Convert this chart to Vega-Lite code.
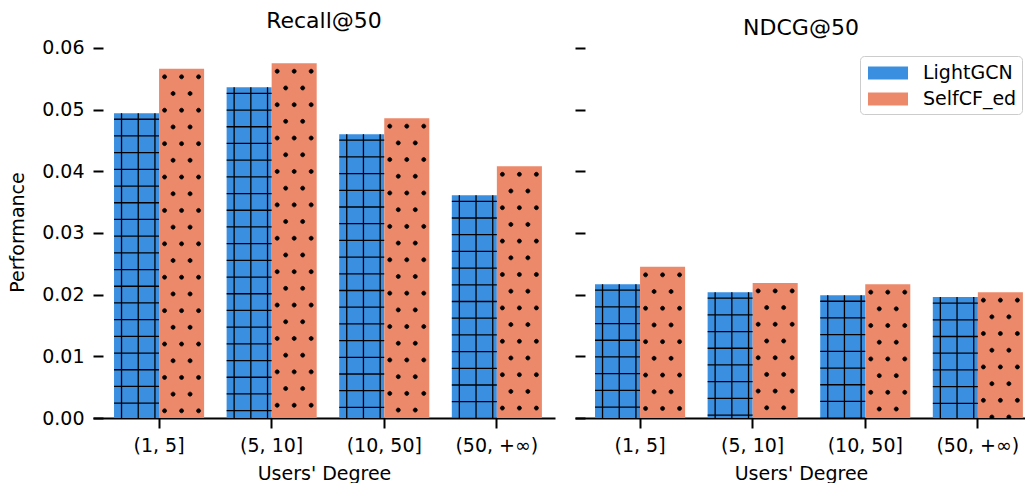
{
  "$schema": "https://vega.github.io/schema/vega-lite/v6.json",
  "padding": {"left": 8, "top": 9, "right": 0, "bottom": 0},
  "config": {
    "font": "DejaVu Sans",
    "view": {"stroke": null},
    "axis": {
      "labelFont": "DejaVu Sans", "titleFont": "DejaVu Sans",
      "labelFontSize": 19, "titleFontSize": 19,
      "labelColor": "black", "titleColor": "black", "titleFontWeight": "normal",
      "domainColor": "black", "tickColor": "black", "grid": false
    },
    "title": {"font": "DejaVu Sans", "fontSize": 22, "fontWeight": "normal", "color": "black", "offset": 6},
    "legend": {"labelFont": "DejaVu Sans"}
  },
  "data": {
    "values": [
      {"metric": "Recall@50", "degree": "(1, 5]", "model": "LightGCN", "value": 0.0494},
      {"metric": "Recall@50", "degree": "(5, 10]", "model": "LightGCN", "value": 0.0536},
      {"metric": "Recall@50", "degree": "(10, 50]", "model": "LightGCN", "value": 0.0460},
      {"metric": "Recall@50", "degree": "(50, +∞)", "model": "LightGCN", "value": 0.0361},
      {"metric": "Recall@50", "degree": "(1, 5]", "model": "SelfCF_ed", "value": 0.0566},
      {"metric": "Recall@50", "degree": "(5, 10]", "model": "SelfCF_ed", "value": 0.0575},
      {"metric": "Recall@50", "degree": "(10, 50]", "model": "SelfCF_ed", "value": 0.0486},
      {"metric": "Recall@50", "degree": "(50, +∞)", "model": "SelfCF_ed", "value": 0.0408},
      {"metric": "NDCG@50", "degree": "(1, 5]", "model": "LightGCN", "value": 0.0217},
      {"metric": "NDCG@50", "degree": "(5, 10]", "model": "LightGCN", "value": 0.0204},
      {"metric": "NDCG@50", "degree": "(10, 50]", "model": "LightGCN", "value": 0.0199},
      {"metric": "NDCG@50", "degree": "(50, +∞)", "model": "LightGCN", "value": 0.0196},
      {"metric": "NDCG@50", "degree": "(1, 5]", "model": "SelfCF_ed", "value": 0.0245},
      {"metric": "NDCG@50", "degree": "(5, 10]", "model": "SelfCF_ed", "value": 0.0219},
      {"metric": "NDCG@50", "degree": "(10, 50]", "model": "SelfCF_ed", "value": 0.0217},
      {"metric": "NDCG@50", "degree": "(50, +∞)", "model": "SelfCF_ed", "value": 0.0204}
    ]
  },
  "spacing": 19,
  "resolve": {"scale": {"x": "independent", "y": "shared", "color": "shared"}, "legend": {"color": "independent"}},
  "hconcat": [
    {
      "title": "Recall@50",
      "width": 462,
      "height": 372,
      "transform": [{"filter": "datum.metric === 'Recall@50'"}],
      "encoding": {
        "x": {
          "field": "degree", "type": "nominal",
          "sort": ["(1, 5]", "(5, 10]", "(10, 50]", "(50, +∞)"],
          "scale": {"paddingInner": 0.2, "paddingOuter": 0.1515, "align": 0.616},
          "axis": {"title": "Users' Degree", "labelAngle": 0, "labelPadding": 8, "tickSize": 10, "tickWidth": 2, "domainWidth": 2, "titlePadding": 9}
        },
        "xOffset": {"field": "model", "type": "nominal", "sort": ["LightGCN", "SelfCF_ed"], "scale": {"paddingInner": 0, "paddingOuter": 0}},
        "y": {
          "field": "value", "type": "quantitative",
          "scale": {"domain": [0, 0.0603], "nice": false},
          "axis": {"title": "Performance", "values": [0, 0.01, 0.02, 0.03, 0.04, 0.05, 0.06], "format": ".2f", "domain": false, "offset": -10, "tickSize": 10, "tickWidth": 2, "labelPadding": 9, "titlePadding": 14}
        }
      },
      "layer": [
        {
          "mark": {"type": "bar"},
          "encoding": {
            "color": {
              "field": "model", "type": "nominal",
              "scale": {"domain": ["LightGCN", "SelfCF_ed"], "range": ["#3b8fe0", "#eb896a"]},
              "legend": null
            }
          }
        },
        {
          "transform": [{"filter": "datum.model === 'LightGCN'"}],
          "mark": {"type": "point", "clip": true, "filled": false, "stroke": "black", "strokeWidth": 1.3, "opacity": 1, "size": 4,
            "shape": "M-22.5,6H22.5M-22.5,22.7H22.5M-22.5,39.4H22.5M-22.5,56.1H22.5M-22.5,72.8H22.5M-22.5,89.5H22.5M-22.5,106.2H22.5M-22.5,122.9H22.5M-22.5,139.6H22.5M-22.5,156.3H22.5M-22.5,173H22.5M-22.5,189.7H22.5M-22.5,206.4H22.5M-22.5,223.1H22.5M-22.5,239.8H22.5M-22.5,256.5H22.5M-22.5,273.2H22.5M-22.5,289.9H22.5M-22.5,306.6H22.5M-22.5,323.3H22.5M-22.5,340H22.5M-22.5,356.7H22.5M-22.5,373.4H22.5M-15,0V380M1.7,0V380M18.4,0V380"}
        },
        {
          "transform": [{"filter": "datum.model === 'SelfCF_ed'"}],
          "mark": {"type": "point", "clip": true, "filled": true, "fill": "black", "stroke": "black", "strokeWidth": 0.8, "opacity": 1, "size": 4,
            "shape": "M-19,8a2,2 0 1,0 4,0a2,2 0 1,0 -4,0M-2,8a2,2 0 1,0 4,0a2,2 0 1,0 -4,0M15,8a2,2 0 1,0 4,0a2,2 0 1,0 -4,0M-10.5,24.7a2,2 0 1,0 4,0a2,2 0 1,0 -4,0M6.5,24.7a2,2 0 1,0 4,0a2,2 0 1,0 -4,0M-19,41.4a2,2 0 1,0 4,0a2,2 0 1,0 -4,0M-2,41.4a2,2 0 1,0 4,0a2,2 0 1,0 -4,0M15,41.4a2,2 0 1,0 4,0a2,2 0 1,0 -4,0M-10.5,58.1a2,2 0 1,0 4,0a2,2 0 1,0 -4,0M6.5,58.1a2,2 0 1,0 4,0a2,2 0 1,0 -4,0M-19,74.8a2,2 0 1,0 4,0a2,2 0 1,0 -4,0M-2,74.8a2,2 0 1,0 4,0a2,2 0 1,0 -4,0M15,74.8a2,2 0 1,0 4,0a2,2 0 1,0 -4,0M-10.5,91.5a2,2 0 1,0 4,0a2,2 0 1,0 -4,0M6.5,91.5a2,2 0 1,0 4,0a2,2 0 1,0 -4,0M-19,108.2a2,2 0 1,0 4,0a2,2 0 1,0 -4,0M-2,108.2a2,2 0 1,0 4,0a2,2 0 1,0 -4,0M15,108.2a2,2 0 1,0 4,0a2,2 0 1,0 -4,0M-10.5,124.9a2,2 0 1,0 4,0a2,2 0 1,0 -4,0M6.5,124.9a2,2 0 1,0 4,0a2,2 0 1,0 -4,0M-19,141.6a2,2 0 1,0 4,0a2,2 0 1,0 -4,0M-2,141.6a2,2 0 1,0 4,0a2,2 0 1,0 -4,0M15,141.6a2,2 0 1,0 4,0a2,2 0 1,0 -4,0M-10.5,158.3a2,2 0 1,0 4,0a2,2 0 1,0 -4,0M6.5,158.3a2,2 0 1,0 4,0a2,2 0 1,0 -4,0M-19,175a2,2 0 1,0 4,0a2,2 0 1,0 -4,0M-2,175a2,2 0 1,0 4,0a2,2 0 1,0 -4,0M15,175a2,2 0 1,0 4,0a2,2 0 1,0 -4,0M-10.5,191.7a2,2 0 1,0 4,0a2,2 0 1,0 -4,0M6.5,191.7a2,2 0 1,0 4,0a2,2 0 1,0 -4,0M-19,208.4a2,2 0 1,0 4,0a2,2 0 1,0 -4,0M-2,208.4a2,2 0 1,0 4,0a2,2 0 1,0 -4,0M15,208.4a2,2 0 1,0 4,0a2,2 0 1,0 -4,0M-10.5,225.1a2,2 0 1,0 4,0a2,2 0 1,0 -4,0M6.5,225.1a2,2 0 1,0 4,0a2,2 0 1,0 -4,0M-19,241.8a2,2 0 1,0 4,0a2,2 0 1,0 -4,0M-2,241.8a2,2 0 1,0 4,0a2,2 0 1,0 -4,0M15,241.8a2,2 0 1,0 4,0a2,2 0 1,0 -4,0M-10.5,258.5a2,2 0 1,0 4,0a2,2 0 1,0 -4,0M6.5,258.5a2,2 0 1,0 4,0a2,2 0 1,0 -4,0M-19,275.2a2,2 0 1,0 4,0a2,2 0 1,0 -4,0M-2,275.2a2,2 0 1,0 4,0a2,2 0 1,0 -4,0M15,275.2a2,2 0 1,0 4,0a2,2 0 1,0 -4,0M-10.5,291.9a2,2 0 1,0 4,0a2,2 0 1,0 -4,0M6.5,291.9a2,2 0 1,0 4,0a2,2 0 1,0 -4,0M-19,308.6a2,2 0 1,0 4,0a2,2 0 1,0 -4,0M-2,308.6a2,2 0 1,0 4,0a2,2 0 1,0 -4,0M15,308.6a2,2 0 1,0 4,0a2,2 0 1,0 -4,0M-10.5,325.3a2,2 0 1,0 4,0a2,2 0 1,0 -4,0M6.5,325.3a2,2 0 1,0 4,0a2,2 0 1,0 -4,0M-19,342a2,2 0 1,0 4,0a2,2 0 1,0 -4,0M-2,342a2,2 0 1,0 4,0a2,2 0 1,0 -4,0M15,342a2,2 0 1,0 4,0a2,2 0 1,0 -4,0M-10.5,358.7a2,2 0 1,0 4,0a2,2 0 1,0 -4,0M6.5,358.7a2,2 0 1,0 4,0a2,2 0 1,0 -4,0M-19,375.4a2,2 0 1,0 4,0a2,2 0 1,0 -4,0M-2,375.4a2,2 0 1,0 4,0a2,2 0 1,0 -4,0M15,375.4a2,2 0 1,0 4,0a2,2 0 1,0 -4,0"}
        }
      ]
    },
    {
      "title": "NDCG@50",
      "width": 452,
      "height": 372,
      "transform": [{"filter": "datum.metric === 'NDCG@50'"}],
      "encoding": {
        "x": {
          "field": "degree", "type": "nominal",
          "sort": ["(1, 5]", "(5, 10]", "(10, 50]", "(50, +∞)"],
          "scale": {"paddingInner": 0.2, "paddingOuter": 0.1071, "align": 0.83},
          "axis": {"title": "Users' Degree", "labelAngle": 0, "labelPadding": 8, "tickSize": 10, "tickWidth": 2, "domainWidth": 2, "titlePadding": 9}
        },
        "xOffset": {"field": "model", "type": "nominal", "sort": ["LightGCN", "SelfCF_ed"], "scale": {"paddingInner": 0, "paddingOuter": 0}},
        "y": {
          "field": "value", "type": "quantitative",
          "scale": {"domain": [0, 0.0603], "nice": false},
          "axis": {"title": null, "labels": false, "values": [0, 0.01, 0.02, 0.03, 0.04, 0.05, 0.06], "domain": false, "offset": -10, "tickSize": 10, "tickWidth": 2}
        }
      },
      "layer": [
        {
          "mark": {"type": "bar"},
          "encoding": {
            "color": {
              "field": "model", "type": "nominal",
              "scale": {"domain": ["LightGCN", "SelfCF_ed"], "range": ["#3b8fe0", "#eb896a"]},
              "legend": {
                "title": null, "orient": "none", "legendX": 285, "legendY": 10,
                "symbolType": "M-1.667,-0.54L1.667,-0.54L1.667,0.54L-1.667,0.54Z",
                "symbolSize": 576, "symbolStrokeWidth": 0, "symbolOffset": 11,
                "labelOffset": 23, "labelFontSize": 19, "labelColor": "black",
                "padding": 5, "rowPadding": 4,
                "strokeColor": "#cccccc", "fillColor": "white", "cornerRadius": 4
              }
            }
          }
        },
        {
          "transform": [{"filter": "datum.model === 'LightGCN'"}],
          "mark": {"type": "point", "clip": true, "filled": false, "stroke": "black", "strokeWidth": 1.3, "opacity": 1, "size": 4,
            "shape": "M-22.5,6H22.5M-22.5,22.7H22.5M-22.5,39.4H22.5M-22.5,56.1H22.5M-22.5,72.8H22.5M-22.5,89.5H22.5M-22.5,106.2H22.5M-22.5,122.9H22.5M-22.5,139.6H22.5M-22.5,156.3H22.5M-22.5,173H22.5M-22.5,189.7H22.5M-22.5,206.4H22.5M-22.5,223.1H22.5M-22.5,239.8H22.5M-22.5,256.5H22.5M-22.5,273.2H22.5M-22.5,289.9H22.5M-22.5,306.6H22.5M-22.5,323.3H22.5M-22.5,340H22.5M-22.5,356.7H22.5M-22.5,373.4H22.5M-15,0V380M1.7,0V380M18.4,0V380"}
        },
        {
          "transform": [{"filter": "datum.model === 'SelfCF_ed'"}],
          "mark": {"type": "point", "clip": true, "filled": true, "fill": "black", "stroke": "black", "strokeWidth": 0.8, "opacity": 1, "size": 4,
            "shape": "M-19,8a2,2 0 1,0 4,0a2,2 0 1,0 -4,0M-2,8a2,2 0 1,0 4,0a2,2 0 1,0 -4,0M15,8a2,2 0 1,0 4,0a2,2 0 1,0 -4,0M-10.5,24.7a2,2 0 1,0 4,0a2,2 0 1,0 -4,0M6.5,24.7a2,2 0 1,0 4,0a2,2 0 1,0 -4,0M-19,41.4a2,2 0 1,0 4,0a2,2 0 1,0 -4,0M-2,41.4a2,2 0 1,0 4,0a2,2 0 1,0 -4,0M15,41.4a2,2 0 1,0 4,0a2,2 0 1,0 -4,0M-10.5,58.1a2,2 0 1,0 4,0a2,2 0 1,0 -4,0M6.5,58.1a2,2 0 1,0 4,0a2,2 0 1,0 -4,0M-19,74.8a2,2 0 1,0 4,0a2,2 0 1,0 -4,0M-2,74.8a2,2 0 1,0 4,0a2,2 0 1,0 -4,0M15,74.8a2,2 0 1,0 4,0a2,2 0 1,0 -4,0M-10.5,91.5a2,2 0 1,0 4,0a2,2 0 1,0 -4,0M6.5,91.5a2,2 0 1,0 4,0a2,2 0 1,0 -4,0M-19,108.2a2,2 0 1,0 4,0a2,2 0 1,0 -4,0M-2,108.2a2,2 0 1,0 4,0a2,2 0 1,0 -4,0M15,108.2a2,2 0 1,0 4,0a2,2 0 1,0 -4,0M-10.5,124.9a2,2 0 1,0 4,0a2,2 0 1,0 -4,0M6.5,124.9a2,2 0 1,0 4,0a2,2 0 1,0 -4,0M-19,141.6a2,2 0 1,0 4,0a2,2 0 1,0 -4,0M-2,141.6a2,2 0 1,0 4,0a2,2 0 1,0 -4,0M15,141.6a2,2 0 1,0 4,0a2,2 0 1,0 -4,0M-10.5,158.3a2,2 0 1,0 4,0a2,2 0 1,0 -4,0M6.5,158.3a2,2 0 1,0 4,0a2,2 0 1,0 -4,0M-19,175a2,2 0 1,0 4,0a2,2 0 1,0 -4,0M-2,175a2,2 0 1,0 4,0a2,2 0 1,0 -4,0M15,175a2,2 0 1,0 4,0a2,2 0 1,0 -4,0M-10.5,191.7a2,2 0 1,0 4,0a2,2 0 1,0 -4,0M6.5,191.7a2,2 0 1,0 4,0a2,2 0 1,0 -4,0M-19,208.4a2,2 0 1,0 4,0a2,2 0 1,0 -4,0M-2,208.4a2,2 0 1,0 4,0a2,2 0 1,0 -4,0M15,208.4a2,2 0 1,0 4,0a2,2 0 1,0 -4,0M-10.5,225.1a2,2 0 1,0 4,0a2,2 0 1,0 -4,0M6.5,225.1a2,2 0 1,0 4,0a2,2 0 1,0 -4,0M-19,241.8a2,2 0 1,0 4,0a2,2 0 1,0 -4,0M-2,241.8a2,2 0 1,0 4,0a2,2 0 1,0 -4,0M15,241.8a2,2 0 1,0 4,0a2,2 0 1,0 -4,0M-10.5,258.5a2,2 0 1,0 4,0a2,2 0 1,0 -4,0M6.5,258.5a2,2 0 1,0 4,0a2,2 0 1,0 -4,0M-19,275.2a2,2 0 1,0 4,0a2,2 0 1,0 -4,0M-2,275.2a2,2 0 1,0 4,0a2,2 0 1,0 -4,0M15,275.2a2,2 0 1,0 4,0a2,2 0 1,0 -4,0M-10.5,291.9a2,2 0 1,0 4,0a2,2 0 1,0 -4,0M6.5,291.9a2,2 0 1,0 4,0a2,2 0 1,0 -4,0M-19,308.6a2,2 0 1,0 4,0a2,2 0 1,0 -4,0M-2,308.6a2,2 0 1,0 4,0a2,2 0 1,0 -4,0M15,308.6a2,2 0 1,0 4,0a2,2 0 1,0 -4,0M-10.5,325.3a2,2 0 1,0 4,0a2,2 0 1,0 -4,0M6.5,325.3a2,2 0 1,0 4,0a2,2 0 1,0 -4,0M-19,342a2,2 0 1,0 4,0a2,2 0 1,0 -4,0M-2,342a2,2 0 1,0 4,0a2,2 0 1,0 -4,0M15,342a2,2 0 1,0 4,0a2,2 0 1,0 -4,0M-10.5,358.7a2,2 0 1,0 4,0a2,2 0 1,0 -4,0M6.5,358.7a2,2 0 1,0 4,0a2,2 0 1,0 -4,0M-19,375.4a2,2 0 1,0 4,0a2,2 0 1,0 -4,0M-2,375.4a2,2 0 1,0 4,0a2,2 0 1,0 -4,0M15,375.4a2,2 0 1,0 4,0a2,2 0 1,0 -4,0"}
        }
      ]
    }
  ]
}
